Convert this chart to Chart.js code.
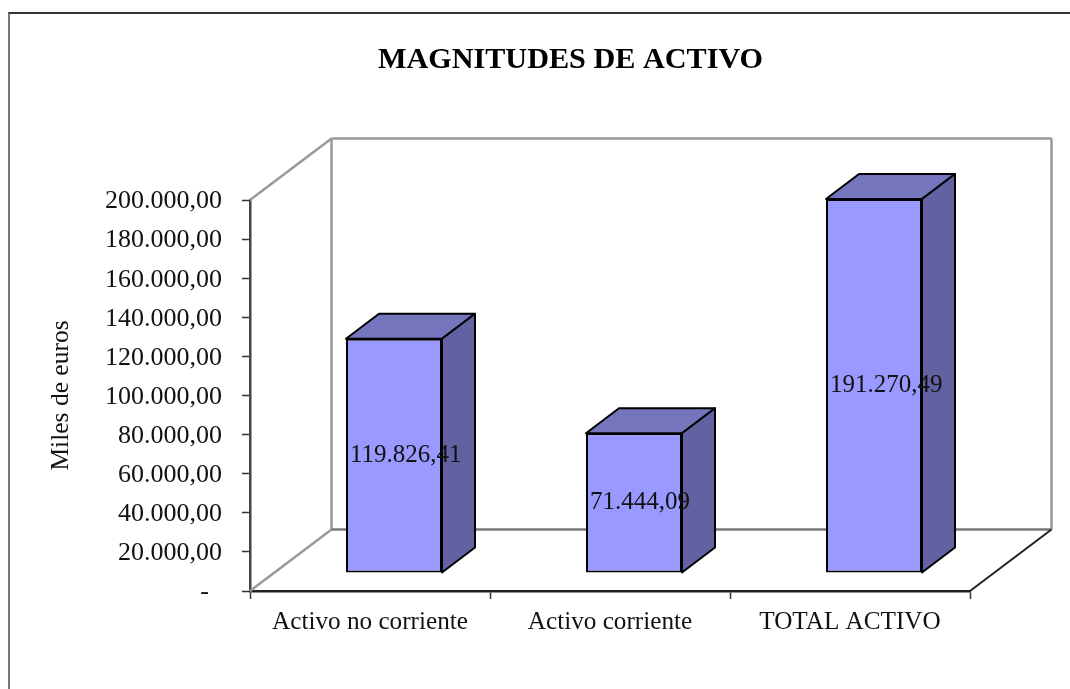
<!DOCTYPE html>
<html lang="es">
<head>
<meta charset="utf-8">
<title>Magnitudes de activo</title>
<script src="https://cdn.jsdelivr.net/npm/chart.js@4/dist/chart.umd.min.js"></script>
<style>
  html, body { margin: 0; padding: 0; background: #fff; overflow: hidden; }
  #frame { position: absolute; left: 8px; top: 12px; right: 0; bottom: 0; border-left: 2px solid #777; border-top: 2px solid #333; }
  #chart { position: absolute; left: 0; top: 0; }
</style>
</head>
<body>
<div id="frame"></div>
<canvas id="chart" width="1070" height="689"></canvas>
<script>
const categories = ['Activo no corriente', 'Activo corriente', 'TOTAL ACTIVO'];
const values = [119826.41, 71444.09, 191270.49];
const valueLabels = ['119.826,41', '71.444,09', '191.270,49'];
const yTickLabels = ['-', '20.000,00', '40.000,00', '60.000,00', '80.000,00', '100.000,00', '120.000,00', '140.000,00', '160.000,00', '180.000,00', '200.000,00'];

const FONT = '"Liberation Serif", "Times New Roman", serif';
const TEXT = '#111';

// 3D look: depth of the whole box, and of one bar inside it
const BOX_DX = 81.5, BOX_DY = -61.5;
const BAR_DX = 33, BAR_DY = -25;
const BAR_OFF_X = 24, BAR_OFF_Y = -18;

function line(ctx, x1, y1, x2, y2, color, width) {
  ctx.beginPath();
  ctx.moveTo(x1, y1);
  ctx.lineTo(x2, y2);
  ctx.strokeStyle = color;
  ctx.lineWidth = width;
  ctx.stroke();
}

function face(ctx, pts, fill) {
  ctx.beginPath();
  pts.forEach((p, i) => (i ? ctx.lineTo(p[0], p[1]) : ctx.moveTo(p[0], p[1])));
  ctx.closePath();
  ctx.fillStyle = fill;
  ctx.fill();
  ctx.strokeStyle = '#000';
  ctx.lineWidth = 2;
  ctx.lineJoin = 'round';
  ctx.stroke();
}

const box3d = {
  id: 'box3d',
  beforeDatasetsDraw(chart) {
    const { ctx, chartArea: a } = chart;
    const x0 = a.left + BOX_DX, x1 = a.right + BOX_DX;
    const y0 = a.top + BOX_DY, y1 = a.bottom + BOX_DY;
    ctx.save();
    line(ctx, x0, y0, x1, y0, '#999', 2.5);
    line(ctx, x1, y0, x1, y1, '#999', 2.5);
    line(ctx, x0, y0, x0, y1, '#999', 2.5);
    line(ctx, a.left, a.top, x0, y0, '#999', 2.5);
    line(ctx, a.left, a.bottom, x0, y1, '#999', 2.5);
    line(ctx, x0, y1, x1, y1, '#777', 2.5);
    line(ctx, a.right, a.bottom, x1, y1, '#222', 2);
    ctx.restore();
  },
  beforeDatasetDraw(chart, args) {
    const { ctx } = chart;
    ctx.save();
    ctx.translate(BAR_OFF_X, BAR_OFF_Y);
    chart.getDatasetMeta(args.index).data.forEach((el) => {
      const l = el.x - el.width / 2, r = el.x + el.width / 2;
      face(ctx, [[l, el.y], [l + BAR_DX, el.y + BAR_DY], [r + BAR_DX, el.y + BAR_DY], [r, el.y]], '#7575bd');
      face(ctx, [[r, el.y], [r + BAR_DX, el.y + BAR_DY], [r + BAR_DX, el.base + BAR_DY], [r, el.base]], '#6262a3');
    });
  },
  afterDatasetDraw(chart) {
    chart.ctx.restore();
  },
  afterDatasetsDraw(chart) {
    const { ctx } = chart;
    ctx.save();
    ctx.font = '25px ' + FONT;
    ctx.fillStyle = TEXT;
    ctx.textAlign = 'left';
    ctx.textBaseline = 'middle';
    chart.getDatasetMeta(0).data.forEach((el, i) => {
      ctx.fillText(valueLabels[i], el.x - el.width / 2 + BAR_OFF_X + 4, (el.y + el.base) / 2 + BAR_OFF_Y);
    });
    ctx.restore();
  },
  beforeDraw(chart) {
    // title sits over the plot, not over the page centre
    chart.titleBlock.left = 71;
    chart.titleBlock.right = 1070;
  },
};

new Chart(document.getElementById('chart'), {
  type: 'bar',
  data: {
    labels: categories,
    datasets: [{
      data: values,
      backgroundColor: '#9999ff',
      borderColor: '#000',
      borderWidth: 2,
      borderSkipped: false,
      barPercentage: 0.4,
      categoryPercentage: 1,
    }],
  },
  plugins: [box3d],
  options: {
    responsive: false,
    animation: false,
    layout: { padding: { right: 100 } },
    plugins: {
      legend: { display: false },
      tooltip: { enabled: false },
      title: {
        display: true,
        text: 'MAGNITUDES DE ACTIVO',
        color: '#000',
        font: { family: FONT, size: 30.2, weight: 'bold', lineHeight: 1.2 },
        padding: { top: 42, bottom: 121.76 },
      },
    },
    scales: {
      x: {
        afterFit: (s) => { s.height = 98; },
        grid: { drawOnChartArea: false, color: '#333', tickLength: 8, tickWidth: 1.5 },
        border: { color: '#222', width: 2.5 },
        ticks: { color: TEXT, font: { family: FONT, size: 25.2 }, padding: 8, maxRotation: 0 },
      },
      y: {
        min: 0,
        max: 200000,
        afterFit: (s) => { s.width = 250; },
        grid: { drawOnChartArea: false, color: '#333', tickLength: 8, tickWidth: 1.5 },
        border: { color: '#444', width: 2.5 },
        ticks: {
          stepSize: 20000,
          color: TEXT,
          padding: 20,
          labelOffset: 1.5,
          font: { family: FONT, size: 26 },
          callback: (v, i) => (i === 0 ? yTickLabels[0] + '\u00a0\u00a0' : yTickLabels[i]),
        },
        title: {
          display: true,
          text: 'Miles de euros',
          color: TEXT,
          font: { family: FONT, size: 25.5 },
          padding: { top: 46, bottom: 0 },
        },
      },
    },
  },
});
</script>
</body>
</html>
